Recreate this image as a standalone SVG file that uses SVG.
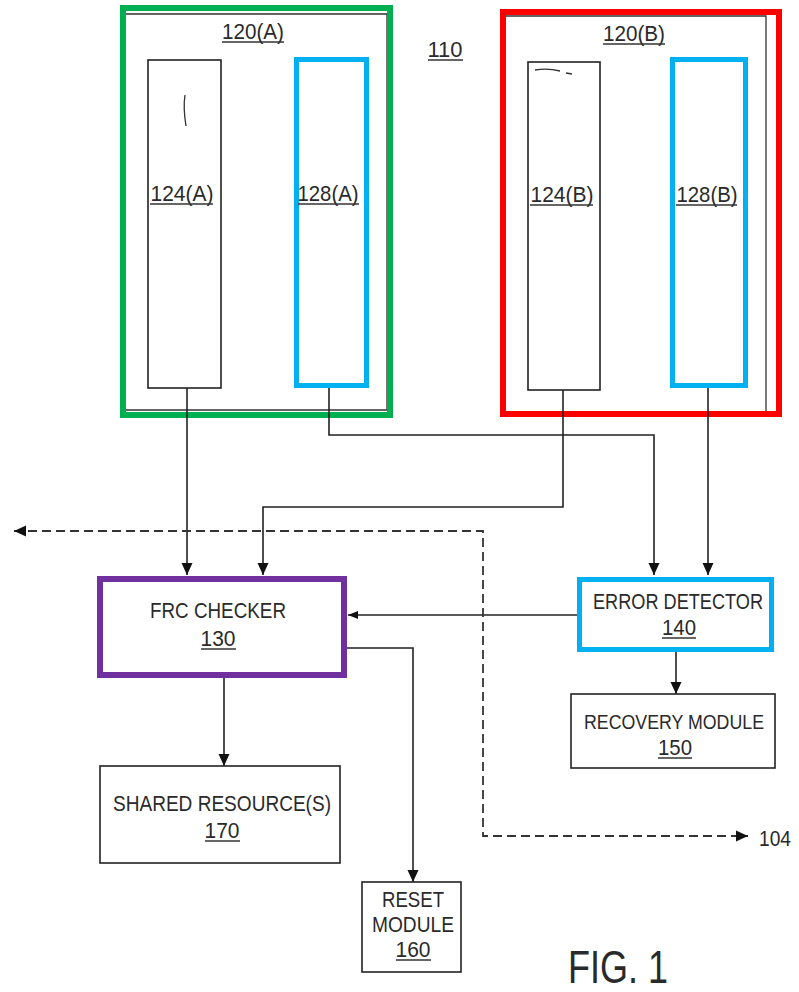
<svg xmlns="http://www.w3.org/2000/svg" width="799" height="992" viewBox="0 0 799 992">
<style>
  .t { font-family: "Liberation Sans Narrow", "Liberation Sans", Arial, sans-serif; font-size: 22px; fill: #2a2a2a; text-anchor: middle; }
  .box { fill: none; stroke: #222; stroke-width: 1.6; }
  .ul { stroke: #333; stroke-width: 1.3; }
  .thin { fill: none; stroke: #333; stroke-width: 1.3; }
  .conn { fill: none; stroke: #222; stroke-width: 1.6; }
  .dash { fill: none; stroke: #333; stroke-width: 1.8; stroke-dasharray: 9 5; }
  .green { fill: none; stroke: #00B050; stroke-width: 6; }
  .red { fill: none; stroke: #FF0000; stroke-width: 6; }
  .blue { fill: none; stroke: #00B0F0; stroke-width: 5; }
  .purple { fill: none; stroke: #7030A0; stroke-width: 6; }
</style>
<defs>
  <marker id="arr" markerUnits="userSpaceOnUse" markerWidth="12" markerHeight="12" viewBox="0 0 12 12" refX="12" refY="6" orient="auto-start-reverse">
    <path d="M0,0.5 L12,6 L0,11.5 Z" fill="#111"/>
  </marker>
  <marker id="arrs" markerUnits="userSpaceOnUse" markerWidth="10" markerHeight="10" viewBox="0 0 10 10" refX="10" refY="5" orient="auto-start-reverse">
    <path d="M0,1 L10,5 L0,9 Z" fill="#111"/>
  </marker>
</defs>
<rect width="799" height="992" fill="#fff"/>

<g id="label-110">
  <text class="t" x="445" y="57" textLength="35" lengthAdjust="spacingAndGlyphs">110</text>
  <line class="ul" x1="428" y1="60" x2="463" y2="60"/>
</g>

<g id="node-120A">
  <path class="thin" d="M126,14 H387 V410 H126"/>
  <rect class="green" x="123" y="8" width="267" height="407"/>
  <text class="t" x="253" y="39" textLength="62" lengthAdjust="spacingAndGlyphs">120(A)</text>
  <line class="ul" x1="222" y1="42" x2="284" y2="42"/>
</g>

<g id="node-124A">
  <rect class="box" x="148" y="60" width="73" height="328"/>
  <path class="thin" d="M185,95 Q183,108 186,126"/>
  <text class="t" x="182" y="201" textLength="63" lengthAdjust="spacingAndGlyphs">124(A)</text>
  <line class="ul" x1="150" y1="204" x2="213" y2="204"/>
</g>

<g id="node-128A">
  <rect class="blue" x="296.5" y="59.5" width="70" height="326"/>
  <text class="t" x="328" y="201" textLength="61" lengthAdjust="spacingAndGlyphs">128(A)</text>
  <line class="ul" x1="298" y1="204" x2="359" y2="204"/>
</g>

<g id="node-120B">
  <path class="thin" d="M506,16 H766 V411"/>
  <rect class="red" x="503" y="12" width="276" height="402"/>
  <text class="t" x="634" y="41" textLength="62" lengthAdjust="spacingAndGlyphs">120(B)</text>
  <line class="ul" x1="603" y1="44" x2="665" y2="44"/>
</g>

<g id="node-124B">
  <rect class="box" x="528" y="62" width="72" height="328"/>
  <path class="thin" d="M535,70 Q548,68 560,71 M566,73 L572,74"/>
  <text class="t" x="562" y="202" textLength="63" lengthAdjust="spacingAndGlyphs">124(B)</text>
  <line class="ul" x1="530" y1="205" x2="593" y2="205"/>
</g>

<g id="node-128B">
  <rect class="blue" x="672.5" y="59.5" width="73" height="326"/>
  <text class="t" x="707" y="202" textLength="61" lengthAdjust="spacingAndGlyphs">128(B)</text>
  <line class="ul" x1="676" y1="205" x2="737" y2="205"/>
</g>

<g id="connectors">
  <path class="conn" d="M187,388 V575" marker-end="url(#arr)"/>
  <path class="conn" d="M329,388 V435 H654 V575" marker-end="url(#arr)"/>
  <path class="conn" d="M563,390 V507 H263 V575" marker-end="url(#arr)"/>
  <path class="conn" d="M708,388 V575" marker-end="url(#arr)"/>
  <path class="conn" d="M577,615 H348" marker-end="url(#arrs)"/>
  <path class="conn" d="M347,648 H413 V882" marker-end="url(#arr)"/>
  <path class="conn" d="M224,678 V766" marker-end="url(#arr)"/>
  <path class="conn" d="M676,652 V694" marker-end="url(#arr)"/>
  <path class="dash" d="M14,531 H483 V836 H748" marker-start="url(#arr)" marker-end="url(#arr)"/>
</g>

<g id="node-130">
  <rect class="purple" x="100" y="579" width="244" height="96"/>
  <text class="t" x="218" y="618" textLength="136" lengthAdjust="spacingAndGlyphs">FRC CHECKER</text>
  <text class="t" x="218" y="646" textLength="35" lengthAdjust="spacingAndGlyphs">130</text>
  <line class="ul" x1="201" y1="649" x2="236" y2="649"/>
</g>

<g id="node-140">
  <rect class="blue" x="579.5" y="579.5" width="192" height="70"/>
  <text class="t" x="678" y="609" textLength="170" lengthAdjust="spacingAndGlyphs">ERROR DETECTOR</text>
  <text class="t" x="679" y="635" textLength="34" lengthAdjust="spacingAndGlyphs">140</text>
  <line class="ul" x1="662" y1="638" x2="696" y2="638"/>
</g>

<g id="node-150">
  <rect class="box" x="571" y="694" width="204" height="74"/>
  <text class="t" x="674" y="729" style="font-size:21px" textLength="180" lengthAdjust="spacingAndGlyphs">RECOVERY MODULE</text>
  <text class="t" x="675" y="755" textLength="34" lengthAdjust="spacingAndGlyphs">150</text>
  <line class="ul" x1="658" y1="758" x2="692" y2="758"/>
</g>

<g id="node-170">
  <rect class="box" x="100" y="766" width="240" height="97"/>
  <text class="t" x="222" y="811" textLength="218" lengthAdjust="spacingAndGlyphs">SHARED RESOURCE(S)</text>
  <text class="t" x="222" y="838" textLength="35" lengthAdjust="spacingAndGlyphs">170</text>
  <line class="ul" x1="205" y1="841" x2="240" y2="841"/>
</g>

<g id="node-160">
  <rect class="box" x="362" y="882" width="99" height="90"/>
  <text class="t" x="413" y="907" textLength="62" lengthAdjust="spacingAndGlyphs">RESET</text>
  <text class="t" x="413" y="932" textLength="82" lengthAdjust="spacingAndGlyphs">MODULE</text>
  <text class="t" x="413" y="957" textLength="35" lengthAdjust="spacingAndGlyphs">160</text>
  <line class="ul" x1="396" y1="960" x2="431" y2="960"/>
</g>

<g id="label-104">
  <text class="t" x="775" y="846" textLength="32" lengthAdjust="spacingAndGlyphs">104</text>
</g>

<g id="caption">
  <text class="t" x="618" y="983" style="font-size:46px" textLength="100" lengthAdjust="spacingAndGlyphs">FIG. 1</text>
</g>
</svg>
